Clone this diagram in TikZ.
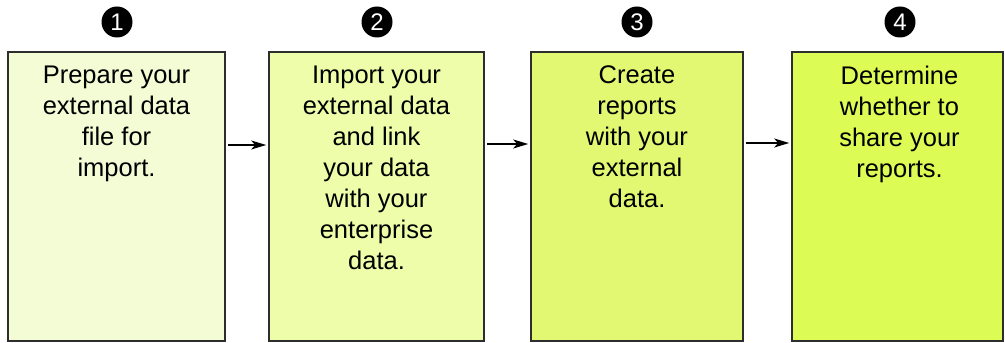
\documentclass[tikz,border=0pt]{standalone}
\usepackage{fontspec}
\setmainfont{Liberation Sans}
\usetikzlibrary{arrows.meta}
\definecolor{fillA}{RGB}{244,252,213}
\definecolor{fillB}{RGB}{237,253,169}
\definecolor{fillC}{RGB}{227,248,114}
\definecolor{fillD}{RGB}{220,252,85}
\definecolor{edgegray}{RGB}{45,45,45}
\begin{document}
\begin{tikzpicture}[x=1pt,y=1pt,
  stepbox/.style={draw=edgegray, line width=1.6pt, rectangle, minimum height=289pt, inner sep=0pt},
  steptxt/.style={anchor=north, align=center, inner sep=0pt, font=\fontsize{25.5}{31}\selectfont},
  numdot/.style={circle, fill=black, minimum size=31pt, inner sep=0pt, text=white, font=\fontsize{24}{24}\selectfont},
  arr/.style={-{Stealth[length=15pt,width=9pt,inset=4pt]}, line width=1.5pt, black}]
\useasboundingbox (0,0) rectangle (1005,343);
\node[stepbox, fill=fillA, minimum width=217pt] (b1) at (116.5,146.5) {};
\node[stepbox, fill=fillB, minimum width=215pt] (b2) at (376.5,146.5) {};
\node[stepbox, fill=fillC, minimum width=212pt] (b3) at (637,146.5) {};
\node[stepbox, fill=fillD, minimum width=211pt] (b4) at (897.5,146.5) {};
\node[steptxt] (t1) at ([yshift=-14.5pt]b1.north) {Prepare your\\external data\\file for\\import.};
\node[steptxt] (t2) at ([yshift=-14.5pt]b2.north) {Import your\\external data\\and link\\your data\\with your\\enterprise\\data.};
\node[steptxt] (t3) at ([yshift=-14.5pt]b3.north) {Create\\reports\\with your\\external\\data.};
\node[steptxt] (t4) at ([shift={(2,-14.5)}]b4.north) {Determine\\whether to\\share your\\reports.};
\node[numdot] (n1) at (117,321) {1};
\node[numdot] (n2) at (377,321) {2};
\node[numdot] (n3) at (637,321) {3};
\node[numdot] (n4) at (900,321) {4};
\draw[arr] ([shift={(2,51.5)}]b1.east) -- ([shift={(-2,51.5)}]b2.west);
\draw[arr] ([shift={(2,52.5)}]b2.east) -- ([shift={(-2,52.5)}]b3.west);
\draw[arr] ([shift={(2,53.5)}]b3.east) -- ([shift={(-2,53.5)}]b4.west);
\end{tikzpicture}
\end{document}
